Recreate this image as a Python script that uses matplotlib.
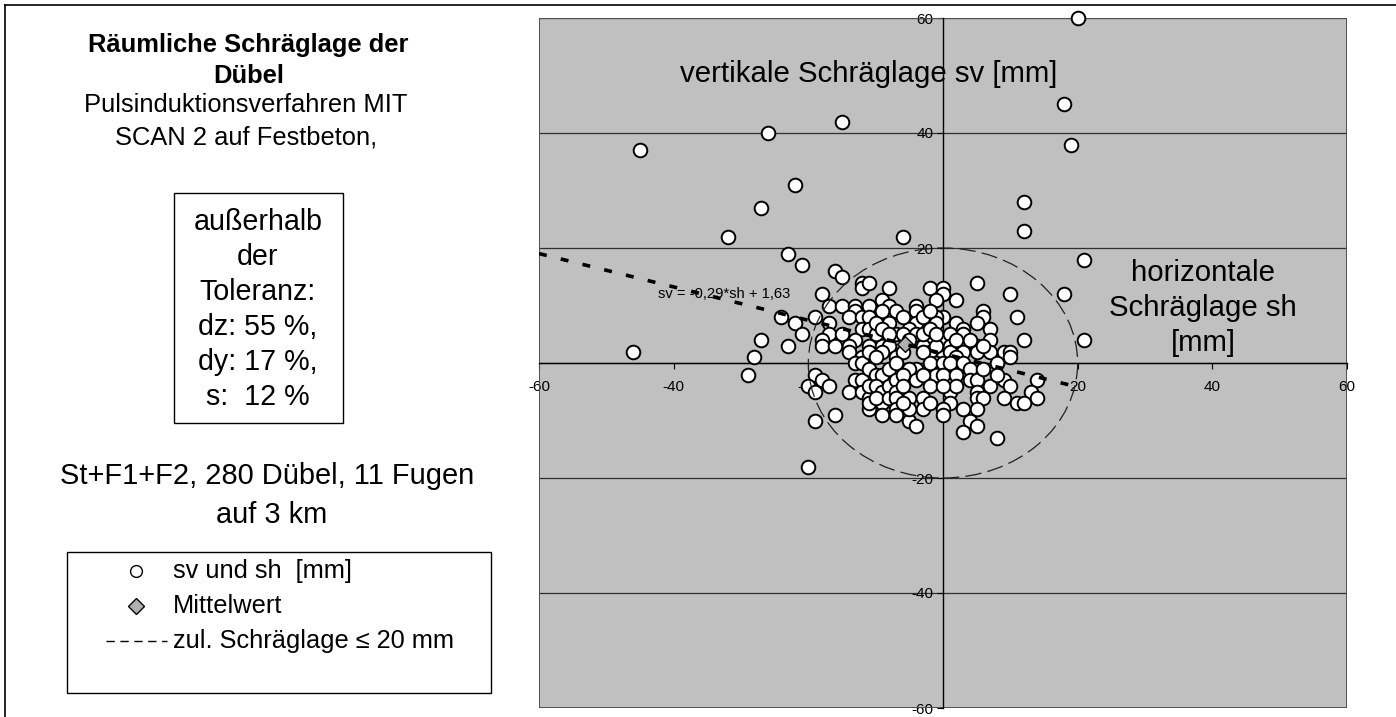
import numpy as np
import matplotlib
matplotlib.use("Agg")
import matplotlib.pyplot as plt
from matplotlib.patches import Circle, Rectangle

plt.rcParams['font.family'] = ['Liberation Sans', 'DejaVu Sans']
plt.rcParams['axes.unicode_minus'] = False

# Messwerte: horizontale (sh) und vertikale (sv) Schräglage in mm
sh = [20, 18, 19, 12, 12, 21, 18, 21, -45, -26, -15, -22, -27, -32, -6,
      -46, -28, -29, -20, -19, -16, 8, -23, -21, -16, -15, -12, -12, -18,
      -24, -22, -19, -21, -27, -23,
      -17, -15, -13, -13, -14, -12, -17, -12, -17, -15, -13, -18, -18, -16,
      -14, -14, -12, -13, -12,
      -11, -8, -2, 0, 0, -9, -1, -11, -8, -4, -4, -7, -9, 0, -1, -11, -8,
      -4, -5, -1, -11, -7, -4, -2, 0, -11, -9, -8, -3, -11, -9, -7, -2, 0,
      -10, -3, -1, -10, -10, -6, -6, -6, -5, -3, -3, -2, -2, -9, -8, -1,
      5, 10, 2, 6, 6, 11, 2, 5, 3, 3, 7, 7, 12, 1, 1, 3, 5, 5, 7, 9, 10,
      10, 1, 2, 2, 4, 6,
      -19, -18, -17, -20, -19, -13, -12, -14, -12, -11, -11, -11, -10, -11,
      -9, -10, -9, -11, -9, -9, -10, -8, -8, -8,
      -7, -4, -1, -5, -7, -4, -1, -7, -5, -3, -7, -7, -7, -5, -4, -6, -6,
      -3, -2, -2, -3, -5, -6, -2,
      0, 1, 3, 4, 0, 2, 4, 5, 9, 14, 7, 10, 1, 5, 13, 5, 6, 9, 14, 1, 11,
      12, 0, 0, 5, 4, 5, 3, 8, 6, 8, 2, 3, 0]
sv = [60, 45, 38, 28, 23, 18, 12, 4, 37, 40, 42, 31, 27, 22, 22,
      2, 1, -2, -18, -10, -9, -13, 19, 17, 16, 15, 14, 13, 12,
      8, 7, 8, 5, 4, 3,
      10, 10, 10, 9, 8, 8, 7, 6, 5, 5, 4, 4, 3, 3,
      3, 2, 1, 0, 0,
      14, 13, 13, 13, 12, 11, 11, 10, 10, 10, 9, 9, 9, 8, 8, 8, 7,
      7, 6, 7, 6, 5, 5, 4, 4, 3, 3, 3, 3, 2, 2, 1, 2, 1,
      1, 2, 3, 5, 7, 8, 5, 2, 4, 8, 5, 6, 9, 6, 5, 5,
      14, 12, 11, 9, 8, 8, 7, 7, 6, 5, 6, 4, 4, 5, 3, 2, 3, 2, 2, 2, 2,
      1, 2, 4, 1, 4, 3,
      -2, -3, -4, -4, -5, -3, -3, -5, -5, -8, -6, -1, -2, -4,
      -2, -4, -5, -7, -7, -9, -6, -1, -4, -6,
      0, -1, 0, -1, -3, -3, -2, -5, -6, -6, -6, -8, -9, -10, -11, -2, -4,
      -2, -4, 0, -8, -8, -7, -7,
      0, 0, 0, -1, -2, -2, -3, -3, -3, -3, -4, -4, -5, -5, -5, -6, -6, -6,
      -6, -7, -7, -7, -8, -9, -8, -10, -11, -12, 0, -1, -2, -4, -8, -4]

mean_sh, mean_sv = -5.6, 3.3
slope, intercept = -0.29, 1.63
trend_x = np.array([-60, 19])
tol_radius = 20
ticks = [-60, -40, -20, 0, 20, 40, 60]

W, H = 1396, 717
fig = plt.figure(figsize=(W / 100, H / 100), dpi=100)

# Hilfsachse in Pixelkoordinaten für Texte, Kästen und Legende
lax = fig.add_axes([0, 0, 1, 1], zorder=0)
lax.set_xlim(0, W)
lax.set_ylim(H, 0)
lax.axis('off')

lax.plot([5, W], [5, 5], color='black', lw=1.2)
lax.plot([5, 5], [5, H], color='black', lw=1.2)

lax.text(248, 52, "Räumliche Schräglage der", ha='center', va='baseline',
         fontsize=18.4, fontweight='bold')
lax.text(249, 83, "Dübel", ha='center', va='baseline', fontsize=18.4, fontweight='bold')
lax.text(246, 112, "Pulsinduktionsverfahren MIT", ha='center', va='baseline', fontsize=18.4)
lax.text(246, 144, "SCAN 2 auf Festbeton,", ha='center', va='baseline', fontsize=18.4)

lax.add_patch(Rectangle((174, 193), 169, 230, fill=False, edgecolor='black', lw=1))
box_lines = ["außerhalb", "der", "Toleranz:", "dz: 55 %,", "dy: 17 %,", "s:  12 %"]
for i, s in enumerate(box_lines):
    lax.text(258, 230 + i * 35, s, ha='center', va='baseline', fontsize=20.6)

lax.text(267, 484, "St+F1+F2, 280 Dübel, 11 Fugen", ha='center', va='baseline', fontsize=20.9)
lax.text(272, 523, "auf 3 km", ha='center', va='baseline', fontsize=20.9)

# Legende
lax.add_patch(Rectangle((67, 552), 424, 141, fill=False, edgecolor='black', lw=1))
lax.plot([136], [571], 'o', ms=8.5, mfc='white', mec='black', mew=1)
lax.plot([136], [606], 'D', ms=8, mfc='#B0B0B0', mec='black', mew=1)
lax.plot([106, 167], [641, 641], color='black', lw=1, ls=(0, (6, 4)))
lax.text(173, 578, "sv und sh  [mm]", ha='left', va='baseline', fontsize=18.3)
lax.text(173, 613, "Mittelwert", ha='left', va='baseline', fontsize=18.3)
lax.text(173, 648, "zul. Schräglage ≤ 20 mm", ha='left', va='baseline', fontsize=18.3)

# Diagramm
ax = fig.add_axes([539 / W, 1 - 708 / H, 808 / W, 690 / H], zorder=1)
ax.set_xlim(-60, 60)
ax.set_ylim(-60, 60)
ax.set_facecolor('#C0C0C0')
ax.set_xticks(ticks)
ax.set_yticks(ticks)
ax.yaxis.grid(True, color='#303030', lw=0.9)
ax.set_axisbelow(True)
for side in ['top', 'right']:
    ax.spines[side].set_visible(False)
for side in ['left', 'bottom']:
    ax.spines[side].set_position(('data', 0))
    ax.spines[side].set_color('black')
    ax.spines[side].set_linewidth(1)
ax.add_patch(Rectangle((0, 0), 1, 1, transform=ax.transAxes, fill=False,
                       edgecolor='#505050', lw=1.4, zorder=2))
ax.tick_params(axis='x', direction='out', length=4, pad=8, labelsize=11)
ax.tick_params(axis='y', direction='out', length=4, pad=3, labelsize=11)

ax.scatter(sh, sv, s=96, facecolor='white', edgecolor='black', linewidth=1.4,
           zorder=4, clip_on=False)
ax.scatter([mean_sh], [mean_sv], marker='D', s=64, facecolor='#B0B0B0',
           edgecolor='black', linewidth=1, zorder=5)

ax.add_patch(Circle((0, 0), tol_radius, fill=False, edgecolor='#202020',
                    lw=0.9, ls=(0, (13, 5)), zorder=6))
ax.plot(trend_x, slope * trend_x + intercept, color='black', lw=2.6,
        ls=(0, (2.2, 4.0)), zorder=6)
ax.text(-42.3, 11.3, "sv = -0,29*sh + 1,63", ha='left', va='baseline',
        fontsize=10.6, zorder=7)

ax.text(-11.0, 48.9, "vertikale Schräglage sv [mm]", ha='center', va='baseline', fontsize=21.2)
for i, s in enumerate(["horizontale", "Schräglage sh", "[mm]"]):
    ax.text(38.6, 14.3 - i * 6.1, s, ha='center', va='baseline', fontsize=21.2)

fig.savefig("out.png", dpi=100)
